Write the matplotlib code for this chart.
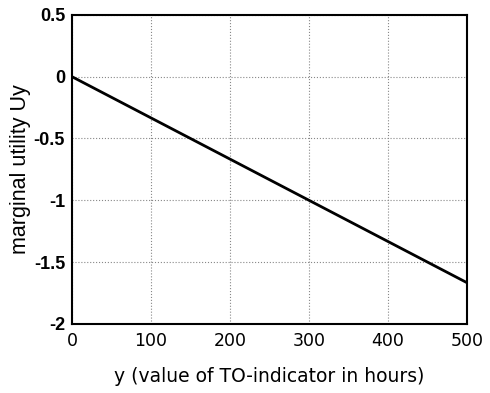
import numpy as np
import matplotlib.pyplot as plt

# line endpoints
hours = [0, 500]
marginal_utility = [0, -1.667]

xticks = [0, 100, 200, 300, 400, 500]
yticks = [-2, -1.5, -1, -0.5, 0, 0.5]
ytick_labels = ["-2", "-1.5", "-1", "-0.5", "0", "0.5"]

fig = plt.figure(figsize=(4.9, 3.93), dpi=100)
ax = fig.add_axes([0.147, 0.176, 0.806, 0.786])

ax.plot(hours, marginal_utility, color="black", linewidth=2.0)

ax.set_xlim(0, 500)
ax.set_ylim(-2, 0.5)
ax.set_xticks(xticks)
ax.set_yticks(yticks)
ax.set_yticklabels(ytick_labels)

ax.grid(True, color="#888888", linestyle=":", linewidth=0.8)
ax.tick_params(length=0)
ax.tick_params(axis="x", pad=6)
ax.tick_params(axis="y", pad=5)
for lab in ax.get_xticklabels():
    lab.set_fontfamily("DejaVu Sans")
    lab.set_fontsize(12.5)
for lab in ax.get_yticklabels():
    lab.set_fontfamily("Liberation Sans")
    lab.set_fontsize(13)
    lab.set_fontweight("bold")

for sp in ax.spines.values():
    sp.set_linewidth(1.5)
    sp.set_color("black")

ax.set_xlabel("y (value of TO-indicator in hours)", fontsize=13.5,
              family="DejaVu Sans", labelpad=12)
ax.set_ylabel("marginal utility Uy", fontsize=15.5, family="Liberation Sans",
              labelpad=2)

fig.savefig("out.png", dpi=100)
